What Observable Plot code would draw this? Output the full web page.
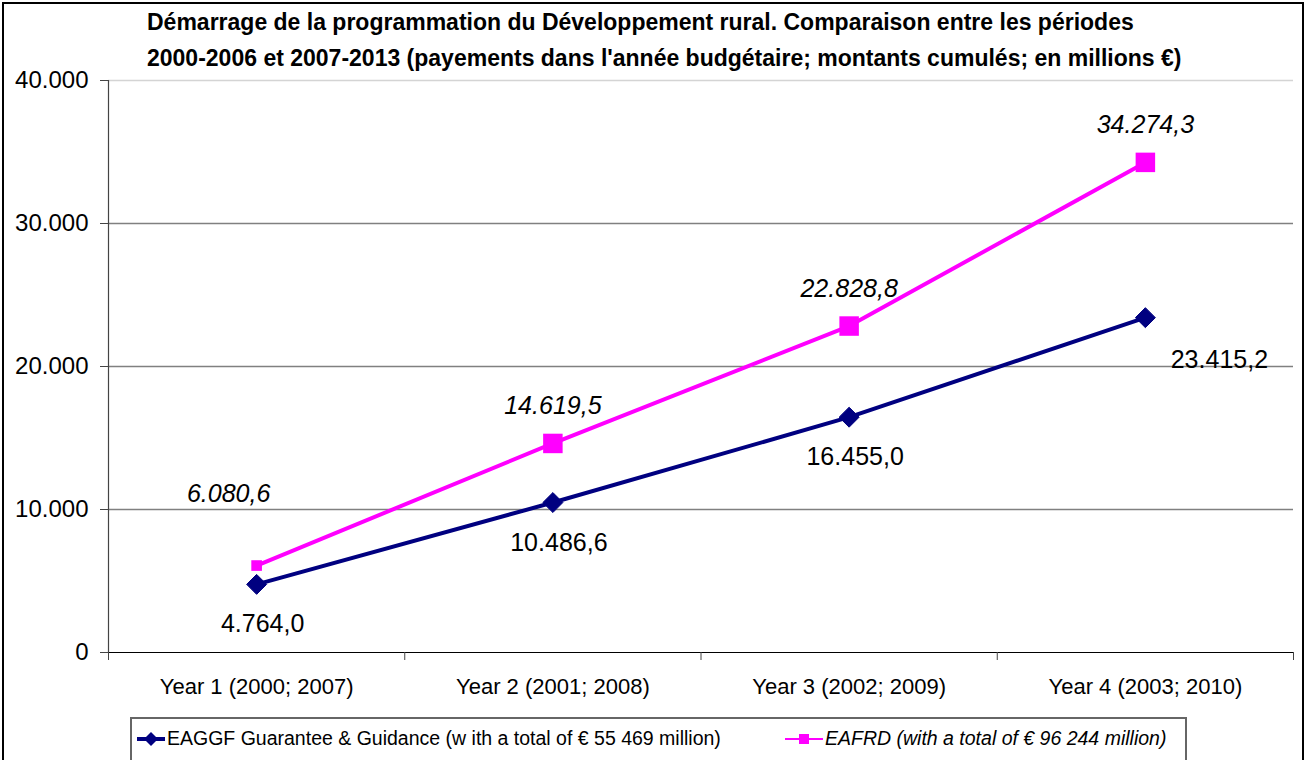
<!DOCTYPE html>
<html><head><meta charset="utf-8">
<script src="https://cdn.jsdelivr.net/npm/d3@7"></script>
<script src="https://cdn.jsdelivr.net/npm/@observablehq/plot@0.6"></script>
<style>
body{margin:0;background:#fff;font-family:"Liberation Sans",Arial,sans-serif;overflow:hidden;}
#frame{position:absolute;left:2px;top:2px;width:1298px;height:800px;border:2px solid #000;}
#title{position:absolute;left:147px;top:4px;white-space:nowrap;text-align:left;font-weight:bold;font-size:23px;line-height:36px;color:#000;}
#chart{position:absolute;left:0;top:40px;}
#legend{position:absolute;left:130px;top:717px;width:1053px;height:60px;border:2px solid #666;font-size:19.5px;}
.item{position:absolute;top:8px;display:flex;align-items:center;white-space:nowrap;}
</style></head>
<body>
<div id="frame"></div>
<div id="title"></div>
<div id="chart"></div>
<div id="legend"></div>
<script>
const titleLines = [
  "Démarrage de la programmation du Développement rural. Comparaison entre les périodes",
  "2000-2006 et 2007-2013 (payements dans l'année budgétaire; montants cumulés; en millions €)"
];
const categories = ["Year 1 (2000; 2007)", "Year 2 (2001; 2008)", "Year 3 (2002; 2009)", "Year 4 (2003; 2010)"];
const eaggf = [4764.0, 10486.6, 16455.0, 23415.2];
const eafrd = [6080.6, 14619.5, 22828.8, 34274.3];
const yTicks = [0, 10000, 20000, 30000, 40000];
const seriesNames = [
  "EAGGF Guarantee & Guidance (w ith a total of € 55 469 million)",
  "EAFRD (with a total of € 96 244 million)"
];
const colors = ["#000080", "#ff00ff"];

document.getElementById("title").innerHTML = titleLines.join("<br>");

const loc = d3.formatLocale({decimal: ",", thousands: ".", grouping: [3], currency: ["", "€"]});
const fmt1 = loc.format(",.1f"), fmt0 = loc.format(",.0f");
const rowsA = eaggf.map((v, i) => ({i, x: i + 0.5, y: v, label: fmt1(v)}));
const rowsB = eafrd.map((v, i) => ({i, x: i + 0.5, y: v, label: fmt1(v)}));
const font = "Liberation Sans, Arial, sans-serif";

const plot = Plot.plot({
  width: 1311, height: 662,
  marginLeft: 108, marginRight: 18, marginTop: 40, marginBottom: 50,
  x: {type: "linear", domain: [0, categories.length]},
  y: {domain: [0, 40000]},
  style: {fontFamily: font, background: "transparent", overflow: "visible", color: "#000"},
  marks: [
    Plot.ruleY(yTicks.filter(d => d > 0 && d < 40000), {stroke: "#808080", strokeWidth: 1.4}),
    Plot.ruleY([40000], {stroke: "#d4d4d4", strokeWidth: 1.4}),
    Plot.axisY({ticks: yTicks, tickFormat: fmt0, tickSize: 8, tickPadding: 12, fontSize: 24, label: null, stroke: "#444"}),
    Plot.ruleX([0], {stroke: "#444", strokeWidth: 1.2}),
    Plot.ruleY([0], {stroke: "#000", strokeWidth: 1.2}),
    Plot.axisX({ticks: d3.range(categories.length + 1), tickFormat: () => "", tickSize: 8, label: null, stroke: "#444"}),
    Plot.axisX({ticks: categories.map((c, i) => i + 0.5), tickFormat: d => categories[Math.floor(d)], tickSize: 0, tickPadding: 26, fontSize: 22, label: null}),
    Plot.line(rowsA, {x: "x", y: "y", stroke: colors[0], strokeWidth: 4}),
    Plot.line(rowsB, {x: "x", y: "y", stroke: colors[1], strokeWidth: 4}),
    Plot.dot(rowsA, {x: "x", y: "y", symbol: "diamond2", fill: colors[0], stroke: colors[0], strokeWidth: 1, r: 9}),
    Plot.dot(rowsB.filter(d => d.i > 0), {x: "x", y: "y", symbol: "square", fill: colors[1], r: 11}),
    Plot.dot(rowsB.filter(d => d.i === 0), {x: "x", y: "y", symbol: "square", fill: colors[1], r: 6}),
    Plot.text(rowsA.filter(d => d.i < 3), {x: "x", y: "y", text: "label", dy: 40, dx: 6, fontSize: 25, fill: "#000"}),
    Plot.text(rowsA.filter(d => d.i === 3), {x: "x", y: "y", text: "label", dy: 42, dx: 74, fontSize: 25, fill: "#000"}),
    Plot.text(rowsB.filter(d => d.i > 0), {x: "x", y: "y", text: "label", dy: -37, fontSize: 25, fontStyle: "italic", fill: "#000"}),
    Plot.text(rowsB.filter(d => d.i === 0), {x: "x", y: "y", text: "label", dy: -72, dx: -28, fontSize: 25, fontStyle: "italic", fill: "#000"})
  ]
});
document.getElementById("chart").appendChild(plot);

// legend
const legend = document.getElementById("legend");
const sw = [
  `<svg width="28" height="20"><line x1="0" y1="10" x2="28" y2="10" stroke="${colors[0]}" stroke-width="4"/><path d="M14,3L21,10L14,17L7,10Z" fill="${colors[0]}"/></svg>`,
  `<svg width="38" height="20"><line x1="0" y1="10" x2="38" y2="10" stroke="${colors[1]}" stroke-width="2"/><rect x="14" y="5" width="10" height="10" fill="${colors[1]}"/></svg>`
];
[[5, 0, "normal"], [653, 1, "italic"]].forEach(([left, k, st]) => {
  const d = document.createElement("div");
  d.className = "item";
  d.style.left = left + "px";
  d.style.fontStyle = st;
  d.innerHTML = sw[k] + `<span style="margin-left:2px">${seriesNames[k]}</span>`;
  legend.appendChild(d);
});
</script>
</body></html>
